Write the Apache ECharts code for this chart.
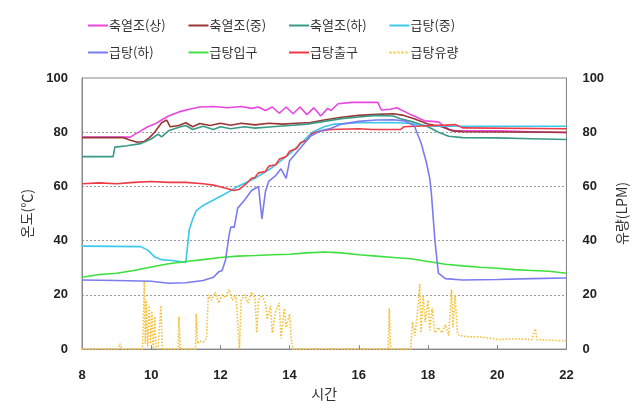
<!DOCTYPE html>
<html>
<head>
<meta charset="utf-8">
<script src="https://cdn.jsdelivr.net/npm/echarts@6/dist/echarts.min.js"></script>
<style>
  html, body { margin: 0; padding: 0; background: #fff; }
  #chart { width: 637px; height: 406px; }
</style>
</head>
<body>
<div id="chart"></div>
<script>
// 시간(h) 기준 [시간, 값] 데이터
const seriesNames = ['축열조(상)', '축열조(중)', '축열조(하)', '급탕(중)', '급탕(하)', '급탕입구', '급탕출구', '급탕유량']
const colors = ['#e846e0', '#9a3535', '#3a9a86', '#3cc8ec', '#7c7cf0', '#3ee03e', '#ee3a44', '#f5c23a']

const tankUpper = [[8, 78.2], [9.4, 78.2], [9.5, 79], [9.7, 80.5], [9.9, 82], [10.1, 83], [10.3, 84.5], [10.5, 86], [10.8, 87.5], [11.1, 88.5], [11.4, 89.3], [11.8, 89.5], [12.2, 89], [12.6, 89.5], [12.9, 88.8], [13.1, 89.3], [13.3, 88], [13.5, 89.3], [13.7, 87], [13.9, 89.3], [14.1, 86.8], [14.3, 89.3], [14.5, 86.5], [14.7, 89], [14.9, 86], [15.1, 88.8], [15.2, 88], [15.4, 90.5], [15.8, 91], [16.2, 91], [16.55, 91], [16.65, 88.2], [16.9, 88.5], [17.1, 89], [17.5, 86.5], [17.9, 84.2], [18.3, 83.8], [18.6, 81], [18.8, 80.5], [20, 80.5], [21, 80.2], [22, 79.8]]
const tankMiddle = [[8, 78], [9.2, 78], [9.4, 77], [9.6, 76.3], [9.8, 76.6], [9.95, 78], [10.1, 80], [10.3, 83.5], [10.45, 84.5], [10.55, 82], [10.8, 82.5], [11.0, 83.5], [11.2, 82], [11.4, 83.2], [11.7, 82.5], [12.0, 83.3], [12.3, 82.6], [12.6, 83.3], [13.0, 82.7], [13.4, 83.3], [13.8, 83], [14.2, 83.3], [14.6, 83.6], [15.0, 84.5], [15.5, 85.5], [16.0, 86.2], [16.5, 86.6], [17.0, 86.8], [17.3, 86.2], [17.6, 85], [18.0, 83], [18.4, 82], [18.7, 80.5], [19, 80.2], [22, 80]]
const tankLower = [[8, 71], [8.9, 71], [8.95, 74.5], [9.3, 75], [9.7, 75.8], [10.0, 77.5], [10.2, 79.3], [10.3, 78.3], [10.5, 80.5], [10.8, 81.8], [11.0, 82.5], [11.2, 81], [11.5, 82.2], [11.8, 81], [12.0, 82], [12.3, 81.3], [12.7, 82], [13.0, 81.5], [13.5, 82], [14.0, 82.5], [14.5, 83], [15.0, 84], [15.5, 85], [16.0, 85.6], [16.5, 86.2], [17.0, 86], [17.2, 85], [17.5, 84], [18.0, 82], [18.3, 80], [18.6, 78.5], [19, 78], [20, 77.9], [21, 77.6], [22, 77.3]]
const hotMiddle = [[8, 38], [9.7, 37.8], [9.9, 36.5], [10.1, 34], [10.3, 33], [10.6, 32.7], [11.0, 32], [11.05, 31.5], [11.1, 44], [11.2, 48], [11.3, 51], [11.5, 53], [11.8, 55], [12.1, 57], [12.5, 60], [13.0, 63], [13.5, 67], [14.0, 72], [14.3, 75.5], [14.65, 80], [15.0, 82], [15.3, 83], [16, 83.5], [17, 83.6], [17.5, 83.2], [17.8, 82.6], [18.2, 82.2], [22, 82.2]]
const hotLower = [[8, 25.5], [9, 25.3], [10, 25], [10.5, 24.3], [11, 24.5], [11.5, 25.3], [11.8, 26.5], [11.95, 28.5], [12.05, 29], [12.15, 33], [12.25, 42], [12.3, 45], [12.4, 45], [12.5, 52], [12.7, 55], [12.9, 58.5], [13.1, 60], [13.2, 48], [13.3, 58], [13.4, 62], [13.6, 64], [13.75, 66.5], [13.9, 63], [14.0, 69.5], [14.3, 74], [14.6, 78.5], [14.9, 80.5], [15.2, 81.5], [15.5, 83], [16, 84], [16.5, 84.5], [17, 84.6], [17.3, 84.2], [17.6, 82.5], [17.8, 76], [17.95, 69], [18.05, 63], [18.1, 57], [18.2, 40], [18.3, 28], [18.5, 26], [19, 25.5], [20, 25.7], [21, 26], [22, 26.2]]
const hotInlet = [[8, 26.5], [8.5, 27.5], [9, 28], [9.5, 29], [10, 30.3], [10.5, 31.5], [11, 32.3], [11.5, 33], [12, 33.8], [12.5, 34.3], [13, 34.5], [13.5, 34.8], [14, 35], [14.5, 35.5], [15, 35.8], [15.5, 35.5], [16, 34.8], [16.5, 34.3], [17, 33.8], [17.5, 33.3], [18, 32.3], [18.5, 31.3], [19, 30.7], [19.5, 30.2], [20, 29.8], [20.5, 29.3], [21, 29], [21.5, 28.7], [22, 28]]
const hotOutlet = [[8, 61], [8.5, 61.3], [9, 61], [9.5, 61.5], [10, 61.8], [10.5, 61.5], [11, 61.5], [11.5, 61], [11.8, 60.5], [12.1, 59.5], [12.4, 58.5], [12.55, 59], [12.75, 61], [12.9, 63], [13.0, 63.3], [13.1, 65], [13.3, 65.5], [13.4, 67.5], [13.6, 68], [13.7, 70], [13.9, 71], [14.0, 73], [14.2, 74], [14.3, 76], [14.5, 77], [14.65, 79.5], [14.9, 80.5], [15.2, 81], [16, 81.3], [16.4, 81], [17.2, 81], [17.3, 82], [17.8, 82.3], [18.5, 82.6], [18.8, 82.8], [19, 81.6], [22, 81.3]]
const hotFlow = [[8, 0], [9.05, 0], [9.1, 2], [9.15, 0], [9.75, 0], [9.8, 25], [9.83, 2], [9.86, 18], [9.9, 1], [9.94, 16], [9.98, 2], [10.02, 14], [10.06, 0], [10.1, 12], [10.14, 1], [10.2, 0], [10.28, 16], [10.32, 0], [10.78, 0], [10.8, 12], [10.84, 0], [11.28, 0], [11.3, 13], [11.34, 2], [11.4, 3], [11.5, 2.5], [11.6, 4], [11.65, 20], [11.75, 18], [11.85, 21], [11.95, 17], [12.05, 20], [12.15, 19], [12.25, 22], [12.35, 18], [12.45, 20], [12.55, 0], [12.6, 18], [12.7, 20], [12.8, 17], [12.9, 21], [13.0, 19], [13.05, 6], [13.1, 18], [13.2, 20], [13.3, 17], [13.35, 11], [13.45, 16], [13.5, 6], [13.6, 14], [13.7, 17], [13.75, 4], [13.85, 15], [13.9, 8], [14.0, 13], [14.05, 3], [14.1, 0], [16.85, 0], [16.88, 15], [16.92, 0], [17.5, 0], [17.55, 10], [17.62, 5], [17.7, 14], [17.76, 24], [17.8, 6], [17.86, 20], [17.92, 10], [18.0, 18], [18.05, 7], [18.12, 15], [18.2, 6], [18.3, 8], [18.4, 6], [18.5, 9], [18.6, 5], [18.68, 22], [18.72, 8], [18.78, 20], [18.85, 6], [18.9, 5], [19.2, 4.5], [19.5, 4.5], [19.8, 4], [20, 3.5], [20.5, 3.8], [21, 3.5], [21.1, 7.5], [21.15, 3.5], [21.5, 3.3], [22, 3]]
const seriesData = [tankUpper, tankMiddle, tankLower, hotMiddle, hotLower, hotInlet, hotOutlet, hotFlow]

const yTicks = [0, 20, 40, 60, 80, 100]
const xTicks = [8, 10, 12, 14, 16, 18, 20, 22]

const chart = echarts.init(document.getElementById('chart'))

const numFont = { color: '#222', fontSize: 13, fontWeight: 'bold', fontFamily: 'Liberation Sans, Arial' }
const krFont = { color: '#333', fontSize: 14, fontFamily: 'Noto Sans CJK KR' }

// 범례: 4열 2행, 각 항목 위치 고정
const legends = seriesNames.map((name, i) => ({
  left: 82 + (i % 4) * 100.5,
  top: i < 4 ? 14 : 41,
  data: [name],
  itemWidth: 20,
  itemHeight: 10,
  itemGap: 0,
  itemStyle: { opacity: 0 },
  textStyle: { color: '#333', fontSize: 13, fontFamily: 'Noto Sans CJK KR', padding: [0, 0, 0, -4] }
}))

const option = {
  animation: false,
  color: colors,
  legend: legends,
  grid: {
    left: 82,
    right: 69,
    top: 78,
    bottom: 53,
    show: true,
    borderColor: '#888',
    borderWidth: 1
  },
  xAxis: {
    type: 'value',
    min: xTicks[0],
    max: xTicks[xTicks.length - 1],
    interval: 2,
    name: '시간',
    nameLocation: 'middle',
    nameGap: 32,
    nameTextStyle: krFont,
    axisLine: { lineStyle: { color: '#888' } },
    axisTick: { inside: true, length: 4, lineStyle: { color: '#888' } },
    axisLabel: Object.assign({ margin: 20 }, numFont),
    splitLine: { show: false }
  },
  yAxis: [
    {
      type: 'value',
      min: yTicks[0],
      max: yTicks[yTicks.length - 1],
      interval: 20,
      name: '온도(℃)',
      nameLocation: 'middle',
      nameGap: 48,
      nameTextStyle: krFont,
      axisLine: { show: true, lineStyle: { color: '#888' } },
      axisTick: { show: false },
      axisLabel: Object.assign({ margin: 14 }, numFont),
      splitLine: {
        lineStyle: { color: '#999', type: [2, 2] },
        showMinLine: false,
        showMaxLine: false
      }
    },
    {
      type: 'value',
      min: yTicks[0],
      max: yTicks[yTicks.length - 1],
      interval: 20,
      name: '유량(LPM)',
      nameLocation: 'middle',
      nameGap: 44,
      nameTextStyle: krFont,
      axisLine: { show: true, lineStyle: { color: '#888' } },
      axisTick: { show: false },
      axisLabel: Object.assign({ margin: 16 }, numFont),
      splitLine: { show: false }
    }
  ],
  series: seriesNames.map((name, i) => ({
    name: name,
    type: 'line',
    yAxisIndex: i === 7 ? 1 : 0,
    symbol: 'none',
    data: seriesData[i],
    lineStyle: {
      color: colors[i],
      width: 1.6,
      type: i === 7 ? 'dotted' : 'solid'
    },
    z: i === 7 ? 1 : 2 + (i === 4 ? 1 : 0)
  }))
}

chart.setOption(option)
</script>
</body>
</html>
